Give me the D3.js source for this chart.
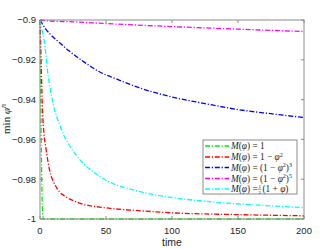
<!DOCTYPE html>
<html>
<head>
<meta charset="utf-8">
<script src="https://cdn.jsdelivr.net/npm/d3@7/dist/d3.min.js"></script>
<style>
  html, body { margin: 0; padding: 0; background: #fff; }
  svg { display: block; }
  .tick-label { font-family: "Liberation Sans", Arial, sans-serif; font-size: 9.5px; fill: #262626; }
  .math { font-family: "Liberation Serif", "DejaVu Serif", serif; fill: #262626; }
</style>
</head>
<body>
<svg id="chart" width="332" height="249"></svg>
<script>
// values: [time, min phi^n]
const greenPts = [[0, -0.9], [0.4, -0.93], [0.8, -0.955], [1.2, -0.975], [1.6, -0.99], [2, -0.997], [2.6, -1], [200, -1]];
const redPts = [[0, -0.9], [0.5, -0.912], [1, -0.925], [2, -0.947], [3, -0.957], [4.5, -0.9645], [6, -0.971], [8, -0.9775],
  [10, -0.981], [15, -0.9865], [20, -0.989], [30, -0.992], [50, -0.9944], [75, -0.9958], [100, -0.9969], [150, -0.9978], [200, -0.9984]];
const bluePts = [[0, -0.9], [2, -0.9022], [4.5, -0.9047], [8, -0.9073], [12, -0.9098], [17, -0.9127], [22, -0.9155], [30, -0.9195],
  [45, -0.926], [60, -0.9302], [75, -0.934], [100, -0.9387], [125, -0.942], [150, -0.945], [175, -0.9471], [200, -0.949]];
const magentaPts = [[0, -0.9], [5, -0.9004], [25, -0.9009], [50, -0.9018], [100, -0.9033], [150, -0.9046], [200, -0.9058]];
const cyanPts = [[0, -0.9], [1.5, -0.905], [3.3, -0.911], [5.8, -0.926], [9.6, -0.941], [15.9, -0.9544], [27.3, -0.9678],
  [40, -0.9762], [50, -0.9805], [70, -0.9853], [96, -0.9888], [130, -0.9914], [165, -0.993], [200, -0.9943]];

const xTicks = [0, 50, 100, 150, 200];
const yTicks = [-1, -0.98, -0.96, -0.94, -0.92, -0.9];

const series = [
  { pts: greenPts, color: '#00ee00' },
  { pts: redPts, color: '#ff0000' },
  { pts: bluePts, color: '#0000ff' },
  { pts: magentaPts, color: '#ff00ff' },
  { pts: cyanPts, color: '#00ffff' },
];

const svg = d3.select('#chart');
const box = { left: 40, right: 304, top: 20, bottom: 219 };

const x = d3.scaleLinear().domain([0, 200]).range([box.left, box.right]);
const y = d3.scaleLinear().domain([-1, -0.9]).range([box.bottom, box.top]);

const axisColor = '#8c8c8c';
const dash = '5,1.8,1.2,1.8';

// curves
const line = d3.line()
  .x(d => x(d[0]))
  .y(d => y(d[1]))
  .curve(d3.curveMonotoneX);

const plot = svg.append('g');
series.forEach(s => {
  plot.append('path')
    .attr('d', line(s.pts))
    .attr('fill', 'none')
    .attr('stroke', s.color)
    .attr('stroke-width', 1.3)
    .attr('stroke-dasharray', dash);
});

// box
svg.append('rect')
  .attr('x', box.left).attr('y', box.top)
  .attr('width', box.right - box.left).attr('height', box.bottom - box.top)
  .attr('fill', 'none').attr('stroke', axisColor).attr('stroke-width', 1);

// ticks (inward, on all four sides)
const tickLen = 3;
xTicks.forEach(t => {
  svg.append('line').attr('x1', x(t)).attr('x2', x(t)).attr('y1', box.bottom).attr('y2', box.bottom - tickLen)
    .attr('stroke', axisColor);
  svg.append('line').attr('x1', x(t)).attr('x2', x(t)).attr('y1', box.top).attr('y2', box.top + tickLen)
    .attr('stroke', axisColor);
  svg.append('text').attr('class', 'tick-label')
    .attr('x', x(t)).attr('y', 234)
    .attr('text-anchor', 'middle')
    .text(t);
});
yTicks.forEach(t => {
  svg.append('line').attr('x1', box.left).attr('x2', box.left + tickLen).attr('y1', y(t)).attr('y2', y(t))
    .attr('stroke', axisColor);
  svg.append('line').attr('x1', box.right).attr('x2', box.right - tickLen).attr('y1', y(t)).attr('y2', y(t))
    .attr('stroke', axisColor);
  svg.append('text').attr('class', 'tick-label')
    .attr('x', 36).attr('y', y(t) + 3.3)
    .attr('text-anchor', 'end')
    .text(t === -1 ? '-1' : d3.format('.2~f')(t));
});

// axis labels
svg.append('text').attr('class', 'tick-label')
  .attr('x', 172).attr('y', 246)
  .attr('text-anchor', 'middle')
  .style('font-size', '10.5px')
  .text('time');

const yl = svg.append('text').attr('class', 'math')
  .attr('transform', 'translate(10,119) rotate(-90)')
  .attr('text-anchor', 'middle')
  .style('font-size', '11px');
yl.append('tspan').text('min ');
yl.append('tspan').style('font-style', 'italic').text('φ');
yl.append('tspan').attr('dy', -4).style('font-size', '8px').style('font-style', 'italic').text('n');

// legend
const lg = svg.append('g');
lg.append('rect')
  .attr('x', 203).attr('y', 140).attr('width', 94).attr('height', 54)
  .attr('fill', '#fff').attr('stroke', axisColor).attr('stroke-width', 1);

const rowsY = [146, 157, 167.5, 178.5, 189];
const fs = 9.3;

function mphi(t) {
  t.append('tspan').style('font-style', 'italic').text('M');
  t.append('tspan').text('(');
  t.append('tspan').style('font-style', 'italic').text('φ');
  t.append('tspan').text(') = ');
}

series.forEach((s, i) => {
  const ry = rowsY[i];
  lg.append('line')
    .attr('x1', 205).attr('x2', 229).attr('y1', ry).attr('y2', ry)
    .attr('stroke', s.color).attr('stroke-width', 1.3)
    .attr('stroke-dasharray', dash);
  const t = lg.append('text').attr('class', 'math')
    .attr('x', 231).attr('y', ry + 3)
    .style('font-size', fs + 'px');
  mphi(t);
  if (i === 0) {
    t.append('tspan').text('1');
  } else if (i === 1) {
    t.append('tspan').text('1 − ');
    t.append('tspan').style('font-style', 'italic').text('φ');
    t.append('tspan').attr('dy', -3.5).style('font-size', '6px').text('2');
  } else if (i === 2 || i === 3) {
    t.append('tspan').text('(1 − ');
    t.append('tspan').style('font-style', 'italic').text('φ');
    t.append('tspan').attr('dy', -3.5).style('font-size', '6px').text('2');
    t.append('tspan').attr('dy', 3.5).text(')');
    t.append('tspan').attr('dy', -3.5).style('font-size', '6px').text(i === 2 ? '3' : '5');
  } else {
    // 1/2 (1 + phi), fraction drawn by hand between two text pieces
    const fx = t.node().getComputedTextLength() + 231 + 2;
    lg.append('text').attr('class', 'math').attr('x', fx).attr('y', ry - 1.2)
      .attr('text-anchor', 'middle').style('font-size', '5px').text('1');
    lg.append('line').attr('x1', fx - 1.8).attr('x2', fx + 1.8).attr('y1', ry + 0.2).attr('y2', ry + 0.2)
      .attr('stroke', '#262626').attr('stroke-width', 0.5);
    lg.append('text').attr('class', 'math').attr('x', fx).attr('y', ry + 5.3)
      .attr('text-anchor', 'middle').style('font-size', '5px').text('2');
    const t2 = lg.append('text').attr('class', 'math')
      .attr('x', fx + 2.8).attr('y', ry + 3)
      .style('font-size', fs + 'px');
    t2.append('tspan').text('(1 + ');
    t2.append('tspan').style('font-style', 'italic').text('φ');
    t2.append('tspan').text(')');
  }
});
</script>
</body>
</html>
